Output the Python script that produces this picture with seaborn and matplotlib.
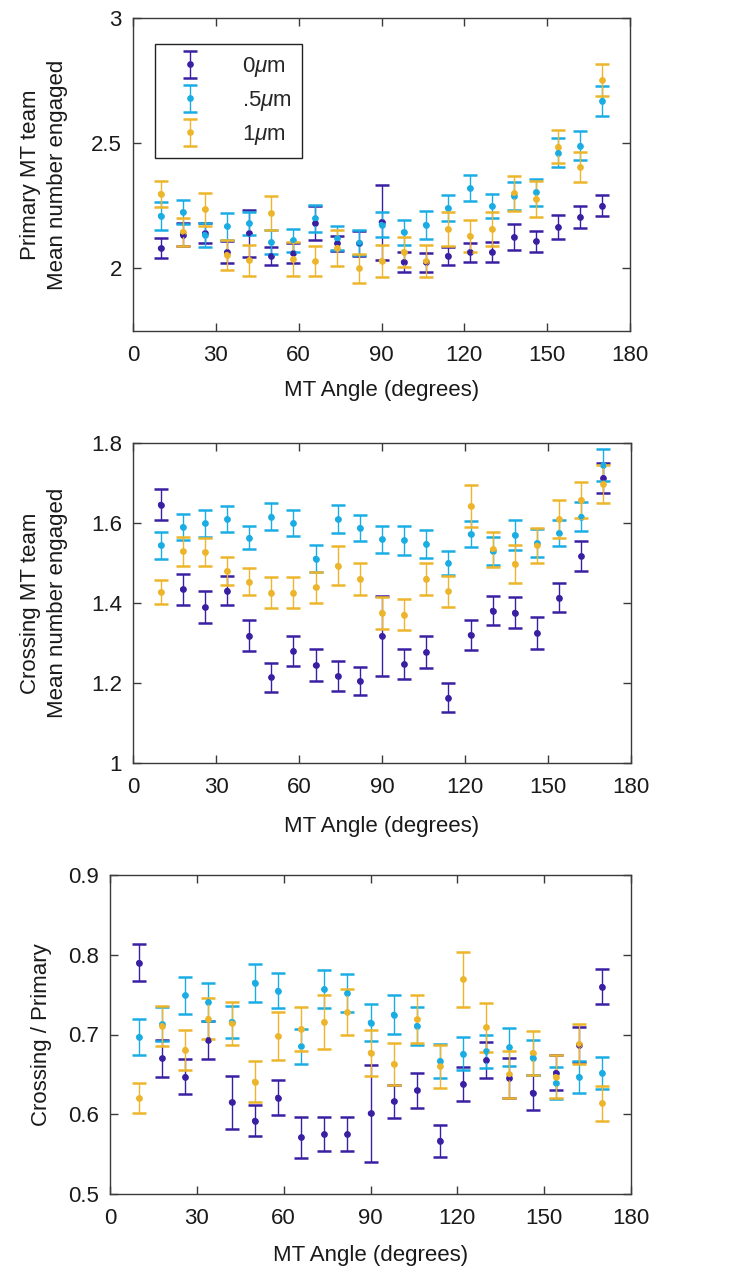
import numpy as np
import pandas as pd
import matplotlib
matplotlib.use("Agg")
import matplotlib.pyplot as plt
import seaborn as sns
from matplotlib.container import ErrorbarContainer
from matplotlib.legend_handler import HandlerErrorbar

# ---------------- data ----------------
angles = [10, 18, 26, 34, 42, 50, 58, 66, 74, 82, 90, 98, 106, 114, 122, 130, 138, 146, 154, 162, 170]
series_labels = [r"0$\mu$m", r".5$\mu$m", r"1$\mu$m"]

# Panel 1: Primary MT team
p1_m0 = [2.08, 2.135, 2.14, 2.065, 2.14, 2.05, 2.06, 2.18, 2.10, 2.10, 2.185, 2.025, 2.025, 2.05, 2.065, 2.065, 2.125, 2.108, 2.165, 2.205, 2.25]
p1_e0 = [0.04, 0.046, 0.04, 0.045, 0.095, 0.037, 0.04, 0.068, 0.03, 0.05, 0.15, 0.04, 0.038, 0.035, 0.038, 0.04, 0.053, 0.043, 0.048, 0.045, 0.042]
p1_m1 = [2.21, 2.225, 2.135, 2.168, 2.18, 2.105, 2.112, 2.20, 2.12, 2.103, 2.175, 2.145, 2.174, 2.241, 2.32, 2.249, 2.29, 2.305, 2.462, 2.49, 2.67]
p1_e1 = [0.055, 0.047, 0.048, 0.053, 0.046, 0.047, 0.045, 0.054, 0.048, 0.05, 0.05, 0.05, 0.055, 0.053, 0.052, 0.048, 0.055, 0.054, 0.057, 0.057, 0.06]
p1_m2 = [2.298, 2.146, 2.236, 2.055, 2.033, 2.22, 2.036, 2.028, 2.083, 2.0, 2.03, 2.066, 2.028, 2.157, 2.13, 2.157, 2.30, 2.277, 2.486, 2.405, 2.752]
p1_e2 = [0.053, 0.055, 0.065, 0.06, 0.062, 0.068, 0.068, 0.06, 0.072, 0.059, 0.065, 0.061, 0.064, 0.068, 0.065, 0.068, 0.07, 0.072, 0.065, 0.06, 0.065]

# Panel 2: Crossing MT team
p2_m0 = [1.646, 1.434, 1.389, 1.431, 1.318, 1.214, 1.28, 1.244, 1.217, 1.205, 1.318, 1.247, 1.277, 1.163, 1.32, 1.381, 1.376, 1.325, 1.413, 1.517, 1.713]
p2_e0 = [0.038, 0.038, 0.04, 0.037, 0.039, 0.036, 0.038, 0.04, 0.037, 0.034, 0.1, 0.037, 0.04, 0.036, 0.038, 0.037, 0.039, 0.039, 0.036, 0.038, 0.037]
p2_m1 = [1.544, 1.59, 1.599, 1.61, 1.563, 1.616, 1.6, 1.511, 1.609, 1.588, 1.559, 1.557, 1.548, 1.5, 1.572, 1.529, 1.57, 1.55, 1.575, 1.616, 1.744]
p2_e1 = [0.034, 0.032, 0.033, 0.033, 0.029, 0.034, 0.033, 0.033, 0.035, 0.033, 0.034, 0.036, 0.035, 0.03, 0.033, 0.035, 0.038, 0.035, 0.033, 0.036, 0.04]
p2_m2 = [1.427, 1.529, 1.527, 1.48, 1.453, 1.426, 1.426, 1.439, 1.493, 1.46, 1.376, 1.371, 1.461, 1.429, 1.642, 1.534, 1.498, 1.544, 1.61, 1.658, 1.697]
p2_e2 = [0.03, 0.036, 0.035, 0.035, 0.034, 0.039, 0.039, 0.039, 0.049, 0.04, 0.04, 0.038, 0.04, 0.039, 0.052, 0.044, 0.047, 0.044, 0.047, 0.045, 0.047]

# Panel 3: Crossing / Primary
p3_m0 = [0.79, 0.67, 0.647, 0.693, 0.615, 0.592, 0.621, 0.571, 0.575, 0.575, 0.601, 0.616, 0.63, 0.567, 0.638, 0.668, 0.646, 0.627, 0.652, 0.687, 0.76]
p3_e0 = [0.023, 0.023, 0.022, 0.024, 0.033, 0.019, 0.022, 0.026, 0.021, 0.021, 0.061, 0.021, 0.022, 0.02, 0.021, 0.022, 0.025, 0.022, 0.022, 0.022, 0.022]
p3_m1 = [0.697, 0.713, 0.749, 0.741, 0.716, 0.765, 0.755, 0.685, 0.757, 0.752, 0.715, 0.725, 0.711, 0.667, 0.676, 0.679, 0.684, 0.671, 0.639, 0.647, 0.652]
p3_e1 = [0.023, 0.021, 0.023, 0.024, 0.02, 0.024, 0.022, 0.022, 0.024, 0.024, 0.023, 0.024, 0.024, 0.021, 0.021, 0.021, 0.024, 0.022, 0.02, 0.02, 0.02]
p3_m2 = [0.62, 0.711, 0.681, 0.72, 0.714, 0.641, 0.698, 0.707, 0.716, 0.728, 0.677, 0.663, 0.719, 0.66, 0.769, 0.709, 0.65, 0.677, 0.647, 0.688, 0.614]
p3_e2 = [0.019, 0.025, 0.025, 0.026, 0.027, 0.026, 0.03, 0.028, 0.034, 0.029, 0.029, 0.026, 0.03, 0.027, 0.034, 0.031, 0.029, 0.028, 0.027, 0.025, 0.022]

x_ticks = [0, 30, 60, 90, 120, 150, 180]
p1_yticks = [2, 2.5, 3]
p1_yticklabels = ["2", "2.5", "3"]
p2_yticks = [1, 1.2, 1.4, 1.6, 1.8]
p2_yticklabels = ["1", "1.2", "1.4", "1.6", "1.8"]
p3_yticks = [0.5, 0.6, 0.7, 0.8, 0.9]
p3_yticklabels = ["0.5", "0.6", "0.7", "0.8", "0.9"]

colors = ["#3B1FA3", "#1AADE4", "#EDB52B"]

# ---------------- style ----------------
sns.set_theme(style="ticks")
plt.rcParams["font.family"] = ["Liberation Sans", "DejaVu Sans"]
plt.rcParams["mathtext.fontset"] = "custom"
plt.rcParams["mathtext.rm"] = "Liberation Sans"
plt.rcParams["mathtext.it"] = "Liberation Sans:italic"
FS = 16

W, H = 732, 1278
fig = plt.figure(figsize=(W / 100, H / 100), dpi=100)

def frac(left, top, right, bottom):
    return [left / W, 1 - bottom / H, (right - left) / W, (bottom - top) / H]

ax1 = fig.add_axes(frac(133, 18, 630, 331))
ax2 = fig.add_axes(frac(133, 443, 631, 763))
ax3 = fig.add_axes(frac(110, 875, 631, 1194))

panels = [
    (ax1, [p1_m0, p1_m1, p1_m2], [p1_e0, p1_e1, p1_e2], (1.75, 3), p1_yticks, p1_yticklabels,
     "Primary MT team\nMean number engaged", -0.131, -0.155),
    (ax2, [p2_m0, p2_m1, p2_m2], [p2_e0, p2_e1, p2_e2], (1.0, 1.8), p2_yticks, p2_yticklabels,
     "Crossing MT team\nMean number engaged", -0.131, -0.167),
    (ax3, [p3_m0, p3_m1, p3_m2], [p3_e0, p3_e1, p3_e2], (0.5, 0.9), p3_yticks, p3_yticklabels,
     "Crossing / Primary", -0.111, -0.16),
]

spine_col = "#3a3a3a"
legend_handles = []
for pi, (ax, means, errs, ylim, yt, ytl, ylab, ylx, xly) in enumerate(panels):
    frames = []
    for si in range(3):
        cont = ax.errorbar(angles, means[si], yerr=errs[si], fmt="o", ms=3.8,
                           color=colors[si], ecolor=colors[si], elinewidth=1.0,
                           capsize=5, capthick=1.8, label=series_labels[si], zorder=2 + si)
        if pi == 0:
            legend_handles.append(cont)
        frames.append(pd.DataFrame({"angle": angles, "value": means[si], "series": series_labels[si]}))
    df = pd.concat(frames, ignore_index=True)
    sns.scatterplot(data=df, x="angle", y="value", hue="series", palette=colors,
                    s=16, edgecolor="none", legend=False, ax=ax, zorder=6)
    ax.set_xlim(0, 180)
    ax.set_ylim(*ylim)
    ax.set_xticks(x_ticks)
    ax.set_xticklabels([str(t) for t in x_ticks])
    ax.set_yticks(yt)
    ax.set_yticklabels(ytl)
    ax.set_xlabel("MT Angle (degrees)", fontsize=FS, color="#1a1a1a")
    ax.set_ylabel(ylab, fontsize=FS, color="#1a1a1a", linespacing=1.35)
    ax.yaxis.set_label_coords(ylx, 0.5)
    ax.xaxis.set_label_coords(0.5, xly)
    ax.tick_params(axis="both", which="both", direction="in", top=True, right=True,
                   length=6, width=1, color=spine_col, labelsize=FS, labelcolor="#1a1a1a")
    ax.tick_params(axis="x", pad=10)
    ax.tick_params(axis="y", pad=8)
    for sp in ax.spines.values():
        sp.set_visible(True)
        sp.set_color(spine_col)
        sp.set_linewidth(1.0)
    ax.grid(False)

leg = ax1.legend(handles=legend_handles, labels=series_labels, loc="upper left",
                 bbox_to_anchor=(0.044, 0.917), borderaxespad=0, frameon=True,
                 fancybox=False, framealpha=1, edgecolor="#222222", fontsize=FS,
                 handlelength=2.2, handletextpad=1.2, labelspacing=0.45,
                 borderpad=0.5,
                 handler_map={ErrorbarContainer: HandlerErrorbar(xerr_size=0.6)})
leg.get_frame().set_linewidth(1.0)

fig.savefig("out.png", dpi=100)
